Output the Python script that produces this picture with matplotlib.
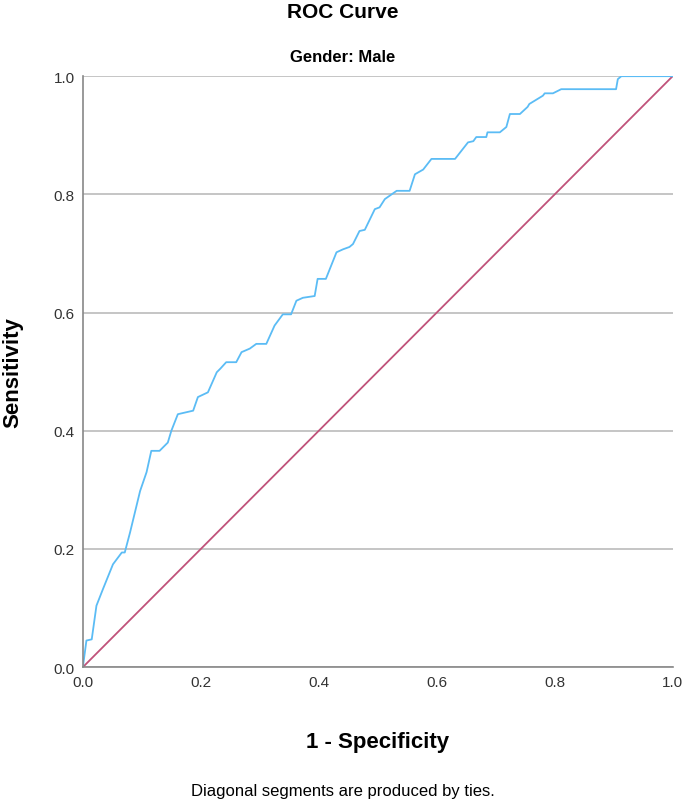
import matplotlib
matplotlib.use("Agg")
import matplotlib.pyplot as plt

plt.rcParams["font.family"] = "Liberation Sans"

# ROC points (1 - specificity, sensitivity)
fpr = [0.0, 0.006, 0.015, 0.023, 0.034, 0.051, 0.066, 0.071, 0.080, 0.097, 0.108,
       0.116, 0.130, 0.144, 0.150, 0.161, 0.187, 0.195, 0.212, 0.227, 0.233, 0.243,
       0.260, 0.269, 0.283, 0.294, 0.311, 0.325, 0.339, 0.353, 0.362, 0.373, 0.393,
       0.398, 0.412, 0.430, 0.441, 0.452, 0.458, 0.469, 0.478, 0.495, 0.503, 0.512,
       0.532, 0.554, 0.563, 0.577, 0.591, 0.631, 0.642, 0.653, 0.662, 0.667, 0.684,
       0.686, 0.707, 0.718, 0.724, 0.741, 0.754, 0.757, 0.780, 0.783, 0.797, 0.811,
       0.904, 0.907, 0.913, 1.0]
tpr = [0.0, 0.045, 0.047, 0.104, 0.132, 0.174, 0.194, 0.194, 0.228, 0.298, 0.330,
       0.366, 0.366, 0.380, 0.400, 0.428, 0.434, 0.457, 0.465, 0.499, 0.505, 0.516,
       0.516, 0.533, 0.539, 0.547, 0.547, 0.578, 0.597, 0.597, 0.620, 0.625, 0.628,
       0.657, 0.657, 0.702, 0.707, 0.711, 0.716, 0.738, 0.740, 0.775, 0.778, 0.792,
       0.806, 0.806, 0.834, 0.842, 0.860, 0.860, 0.874, 0.888, 0.890, 0.897, 0.897,
       0.905, 0.905, 0.914, 0.936, 0.936, 0.948, 0.953, 0.967, 0.971, 0.971, 0.978,
       0.978, 0.995, 1.0, 1.0]
ticks = [0.0, 0.2, 0.4, 0.6, 0.8, 1.0]

fig = plt.figure(figsize=(6.85, 8.04), dpi=100)
ax = fig.add_axes([0.121, 0.169, 0.861, 0.735])

ax.plot([0, 1], [0, 1], color="#c0527a", lw=1.3)
ax.plot(fpr, tpr, color="#5bbcf5", lw=1.3)

ax.set_xlim(0, 1)
ax.set_ylim(0, 1)
ax.set_xticks(ticks)
ax.set_yticks(ticks)
ax.set_xticklabels([f"{t:.1f}" for t in ticks])
ax.set_yticklabels([f"{t:.1f}" for t in ticks])
ax.tick_params(labelsize=11, colors="#333333", length=0, pad=6)
ax.yaxis.grid(True, color="#bbbbbb", lw=1.2)
ax.set_axisbelow(True)
for s in ["top", "right"]:
    ax.spines[s].set_visible(False)
for s in ["left", "bottom"]:
    ax.spines[s].set_color("#888888")
    ax.spines[s].set_linewidth(1.2)

ax.set_xlabel("1 - Specificity", fontsize=16, fontweight="bold", labelpad=30)
ax.set_ylabel("Sensitivity", fontsize=16, fontweight="bold", labelpad=22)

fig.text(0.5, 0.985, "ROC Curve", ha="center", va="center", fontsize=15, fontweight="bold")
fig.text(0.5, 0.928, "Gender: Male", ha="center", va="center", fontsize=12, fontweight="bold")
fig.text(0.5, 0.015, "Diagonal segments are produced by ties.", ha="center", va="center", fontsize=12)

fig.savefig("out.png", dpi=100)
